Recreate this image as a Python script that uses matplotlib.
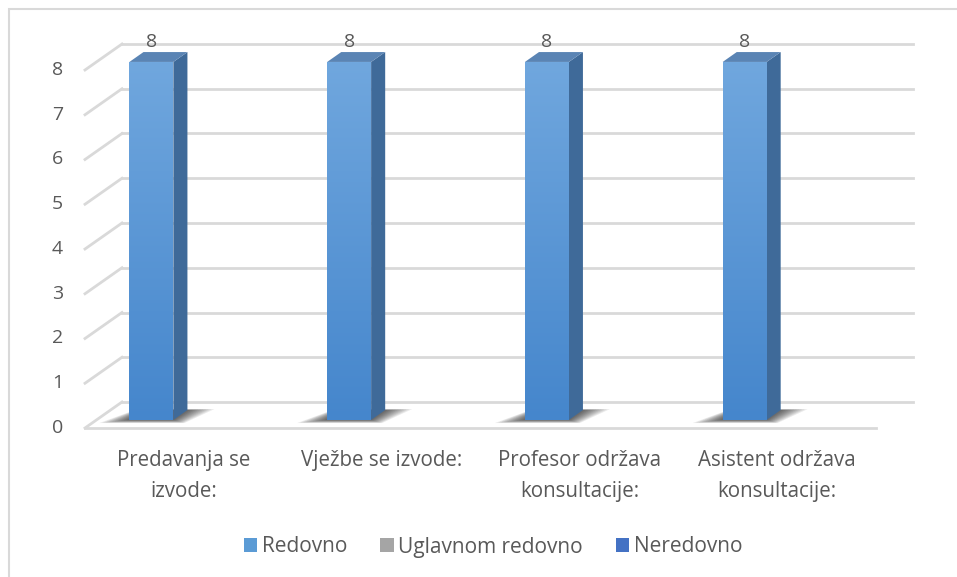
import numpy as np
from matplotlib import pyplot as plt
from matplotlib.patches import Polygon, Rectangle, Patch
from matplotlib.colors import LinearSegmentedColormap

# data
categories = ["Predavanja se\nizvode:", "Vježbe se izvode:",
              "Profesor održava\nkonsultacije:", "Asistent održava\nkonsultacije:"]
series_names = ["Redovno", "Uglavnom redovno", "Neredovno"]
redovno = [8, 8, 8, 8]
uglavnom = [0, 0, 0, 0]
neredovno = [0, 0, 0, 0]
y_ticks = [0, 1, 2, 3, 4, 5, 6, 7, 8]

series = [redovno, uglavnom, neredovno]
legend_colors = ["#5B9BD5", "#A5A5A5", "#4472C4"]
# (front top, front bottom, side, top) per series
face_colors = [
    ("#70A7DE", "#4586CC", "#3F6A99", "#5A84B4"),
    ("#B5B5B5", "#9A9A9A", "#7A7A7A", "#A0A0A0"),
    ("#5A86D0", "#3A66B8", "#2E4F8C", "#4A70B0"),
]
grid_col = "#D9D9D9"
text_col = "#595959"

plt.rcParams['font.family'] = ['Open Sans', 'DejaVu Sans']

W, H, DPI = 957, 577, 100
fig = plt.figure(figsize=(W / DPI, H / DPI), dpi=DPI)
ax = fig.add_axes([0, 0, 1, 1])
ax.set_axis_off()

# pixel layout of the 3D box (front plane)
x0_px, y0_px = 85, 428        # front-left floor corner
cat_px = 197.75               # width of one category
val_px = 44.75                # pixels per value unit
depth_dx, depth_dy = 37 / cat_px, 26 / val_px   # full depth offset in data units


def proj(x, y, d):
    return (x + d * depth_dx, y + d * depth_dy)


n = len(categories)

# back wall gridlines + left wall diagonals
for t in y_ticks:
    a = proj(0, t, 1)
    b = proj(n, t, 1)
    ax.plot([a[0], b[0]], [a[1], b[1]], color=grid_col, lw=2, zorder=1)
    c = proj(0, t, 0)
    ax.plot([c[0], a[0]], [c[1], a[1]], color=grid_col, lw=2, zorder=1)
# floor front edge
ax.plot([0, n], [0, 0], color=grid_col, lw=2, zorder=1)

# bars (clustered, gap width 150%)
gap = 1.5
bw = 1.0 / (len(series) + gap)
d0, d1 = 0.31, 0.69
grad = np.linspace(0, 1, 256).reshape(-1, 1)

for j, vals in enumerate(series):
    ftop, fbot, side_c, top_c = face_colors[j]
    xs = np.arange(n) + 0.5 + (j - 1) * bw
    xl_front = xs - bw / 2 + d0 * depth_dx
    base = d0 * depth_dy
    for i, v in enumerate(vals):
        if v <= 0:
            continue
        xl = xs[i] - bw / 2
        xr = xs[i] + bw / 2
        # soft shadow on the floor
        for k in range(10):
            m = 0.13 * (1 - k / 10)
            dm = 0.12 * (1 - k / 10)
            pts = [proj(xl - m, 0, max(d0 - dm, 0)), proj(xr + m * 0.6, 0, max(d0 - dm, 0)),
                   proj(xr + m, 0, min(d1 + dm * 0.3, 1)), proj(xl - m * 0.3, 0, min(d1 + dm * 0.3, 1))]
            ax.add_patch(Polygon(pts, closed=True, facecolor='black', edgecolor='none',
                                 alpha=0.08, zorder=2))
        # side face
        side = [proj(xr, 0, d0), proj(xr, 0, d1), proj(xr, v, d1), proj(xr, v, d0)]
        ax.add_patch(Polygon(side, closed=True, facecolor=side_c, edgecolor='none', zorder=3))
        # top face
        top = [proj(xl, v, d0), proj(xr, v, d0), proj(xr, v, d1), proj(xl, v, d1)]
        ax.add_patch(Polygon(top, closed=True, facecolor=top_c, edgecolor='none', zorder=3))
    bars = ax.bar(xl_front, vals, width=bw, bottom=base, align='edge',
                  color=fbot, edgecolor='none', zorder=4)
    cmap = LinearSegmentedColormap.from_list("g%d" % j, [fbot, ftop])
    for b, v in zip(bars, vals):
        if v <= 0:
            continue
        im = ax.imshow(grad, cmap=cmap, origin='lower', aspect='auto', zorder=5,
                       extent=[b.get_x(), b.get_x() + b.get_width(),
                               b.get_y(), b.get_y() + b.get_height()])
        im.set_clip_path(b)
        # value label
        ax.annotate(f"{v}", (b.get_x() + b.get_width() / 2, v + d1 * depth_dy),
                    xytext=(0, 4), textcoords='offset points', ha='center',
                    va='baseline', fontsize=14, color=text_col, zorder=6)

ax.set_xlim(-x0_px / cat_px, (W - x0_px) / cat_px)
ax.set_ylim((y0_px - H) / val_px, y0_px / val_px)

# y tick labels on the front plane
for t in y_ticks:
    ax.text(-0.11, t, str(t), ha='right', va='center', fontsize=14, color=text_col)

# category labels
for i, c in enumerate(categories):
    ax.text(i + 0.5, -0.50, c, ha='center', va='top', fontsize=14.8,
            color=text_col, linespacing=1.62)

# chart frame
fig.patches.append(Rectangle((9 / W, -0.1), 1.2, 1 - 9 / H + 0.1, transform=fig.transFigure,
                             facecolor='none', edgecolor=grid_col, lw=1.5))

handles = [Patch(facecolor=c, edgecolor='none', label=s) for c, s in zip(legend_colors, series_names)]
fig.legend(handles=handles, loc='center', bbox_to_anchor=(493 / W, 1 - 547 / H), ncol=3,
           frameon=False, fontsize=15, labelcolor=text_col, handlelength=0.65,
           handleheight=0.65, handletextpad=0.2, columnspacing=1.6)

fig.savefig("out.png", dpi=DPI)
